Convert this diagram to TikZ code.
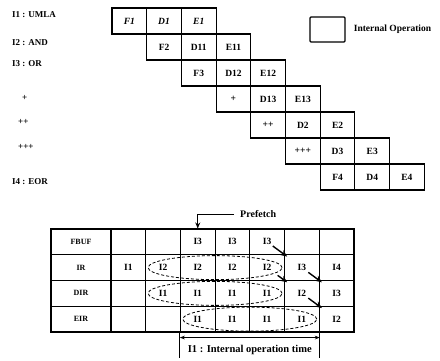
\documentclass[tikz,border=0pt]{standalone}
\usepackage{fontspec}
\setmainfont{Liberation Serif}
\usetikzlibrary{arrows.meta,positioning,calc}
\tikzset{
  cell/.style={draw,line width=1.1pt,minimum width=34.7pt,minimum height=26pt,inner sep=0pt,font=\fontsize{9.5}{11}\selectfont\bfseries},
  tcell/.style={cell,minimum height=25.75pt},
  labcell/.style={tcell,minimum width=60pt,font=\fontsize{8}{10}\selectfont\bfseries},
  rowlab/.style={anchor=west,inner sep=0pt,font=\fontsize{9}{11}\selectfont\bfseries},
  hold/.style={densely dashed,line width=0.8pt},
  move/.style={-{Stealth[length=7pt,width=6pt]},line width=1.4pt,shorten >=-4pt},
}

\begin{document}
\begin{tikzpicture}[x=1pt,y=-1pt]
  \useasboundingbox (0,0) rectangle (440,360);
  % instruction labels
  \node[rowlab] (i1) at (12,15) {I1 : UMLA};
  \node[rowlab] (i2) at (12,43) {I2 : AND};
  \node[rowlab] (i3) at (12,64) {I3 : OR};
  \node[rowlab] (p1) at (22,98) {+};
  \node[rowlab] (p2) at (18,122) {++};
  \node[rowlab] (p3) at (18,147) {+++};
  \node[rowlab] (i4) at (12,182) {I4 : EOR};
  % stages
  \foreach \a/\b/\c [count=\r] in {{\itshape F1}/{\itshape D1}/{\itshape E1},F2/D11/E11,F3/D12/E12,+/D13/E13,++/D2/E2,+++/D3/E3,F4/D4/E4}{
    \node[cell] (s-\r-1) at ({112+34.7*(\r-0.5)},{8+26*(\r-0.5)}) {\a};
    \node[cell] (s-\r-2) at ({112+34.7*(\r+0.5)},{8+26*(\r-0.5)}) {\b};
    \node[cell] (s-\r-3) at ({112+34.7*(\r+1.5)},{8+26*(\r-0.5)}) {\c};
  }
  \node[draw,line width=1.3pt,rounded corners=1pt,minimum width=35pt,minimum height=25pt] (legbox) at (327.5,29.5) {};
  \node[right=8pt of legbox,inner sep=0pt,font=\fontsize{9.5}{11}\selectfont\bfseries] (legtxt) {Internal Operation};
  % register table
  \foreach \nm/\id [count=\r] in {FBUF/fbuf,IR/ir,DIR/dir,EIR/eir}
    \node[labcell] (\id-0) at (81,{229+25.75*(\r-0.5)}) {\nm};
  \foreach \v [count=\k] in {{},{},I3,I3,I3,{},{}}
    \node[tcell] (fbuf-\k) at ({111+34.7*(\k-0.5)},241.875) {\v};
  \foreach \v [count=\k] in {I1,I2,I2,I2,I2,I3,I4}
    \node[tcell] (ir-\k) at ({111+34.7*(\k-0.5)},267.625) {\v};
  \foreach \v [count=\k] in {{},I1,I1,I1,I1,I2,I3}
    \node[tcell] (dir-\k) at ({111+34.7*(\k-0.5)},293.375) {\v};
  \foreach \v [count=\k] in {{},{},I1,I1,I1,I1,I2}
    \node[tcell] (eir-\k) at ({111+34.7*(\k-0.5)},319.125) {\v};
  \draw[line width=1.8pt] (fbuf-0.north west) rectangle (eir-7.south east);
  % held values
  \draw[hold] ($(ir-2.west)!0.5!(ir-5.east)$) ellipse [x radius=67pt,y radius=12pt];
  \draw[hold] ($(dir-2.west)!0.5!(dir-5.east)$) ellipse [x radius=67pt,y radius=12pt];
  \draw[hold] ($(eir-3.west)!0.5!(eir-6.east)$) ellipse [x radius=67pt,y radius=12pt];
  % transfers
  \draw[move,shorten <=7pt] (fbuf-5.center) -- (ir-6.north west);
  \draw[move,shorten <=13pt] (ir-5.center) -- (dir-6.north west);
  \draw[move,shorten <=8pt] (ir-6.center) -- (dir-7.north west);
  \draw[move,shorten <=8pt] (dir-6.center) -- (eir-7.north west);
  % prefetch
  \node[rowlab,font=\fontsize{10}{12}\selectfont\bfseries] (pf) at (240,214) {Prefetch};
  \draw[-{Stealth[length=6pt,width=5pt]},line width=1pt,shorten <=6pt] (pf.west) -| (fbuf-3.north);
  % interval
  \coordinate (tl) at ($(eir-3.south west)+(0,25)$);
  \coordinate (tr) at ($(eir-6.south east)+(0,25)$);
  \draw[line width=1pt] (eir-3.south west) -- (tl);
  \draw[line width=1pt] (eir-6.south east) -- (tr);
  \draw[{Stealth[length=5pt]}-{Stealth[length=5pt]},line width=1.3pt] ($(eir-3.south west)+(0,5)$) -- ($(eir-6.south east)+(0,5)$);
  \node[font=\fontsize{10.5}{12}\selectfont\bfseries] (iot) at ($(tl)!0.5!(tr)+(0,-8)$) {I1 : Internal operation time};
\end{tikzpicture}
\end{document}
